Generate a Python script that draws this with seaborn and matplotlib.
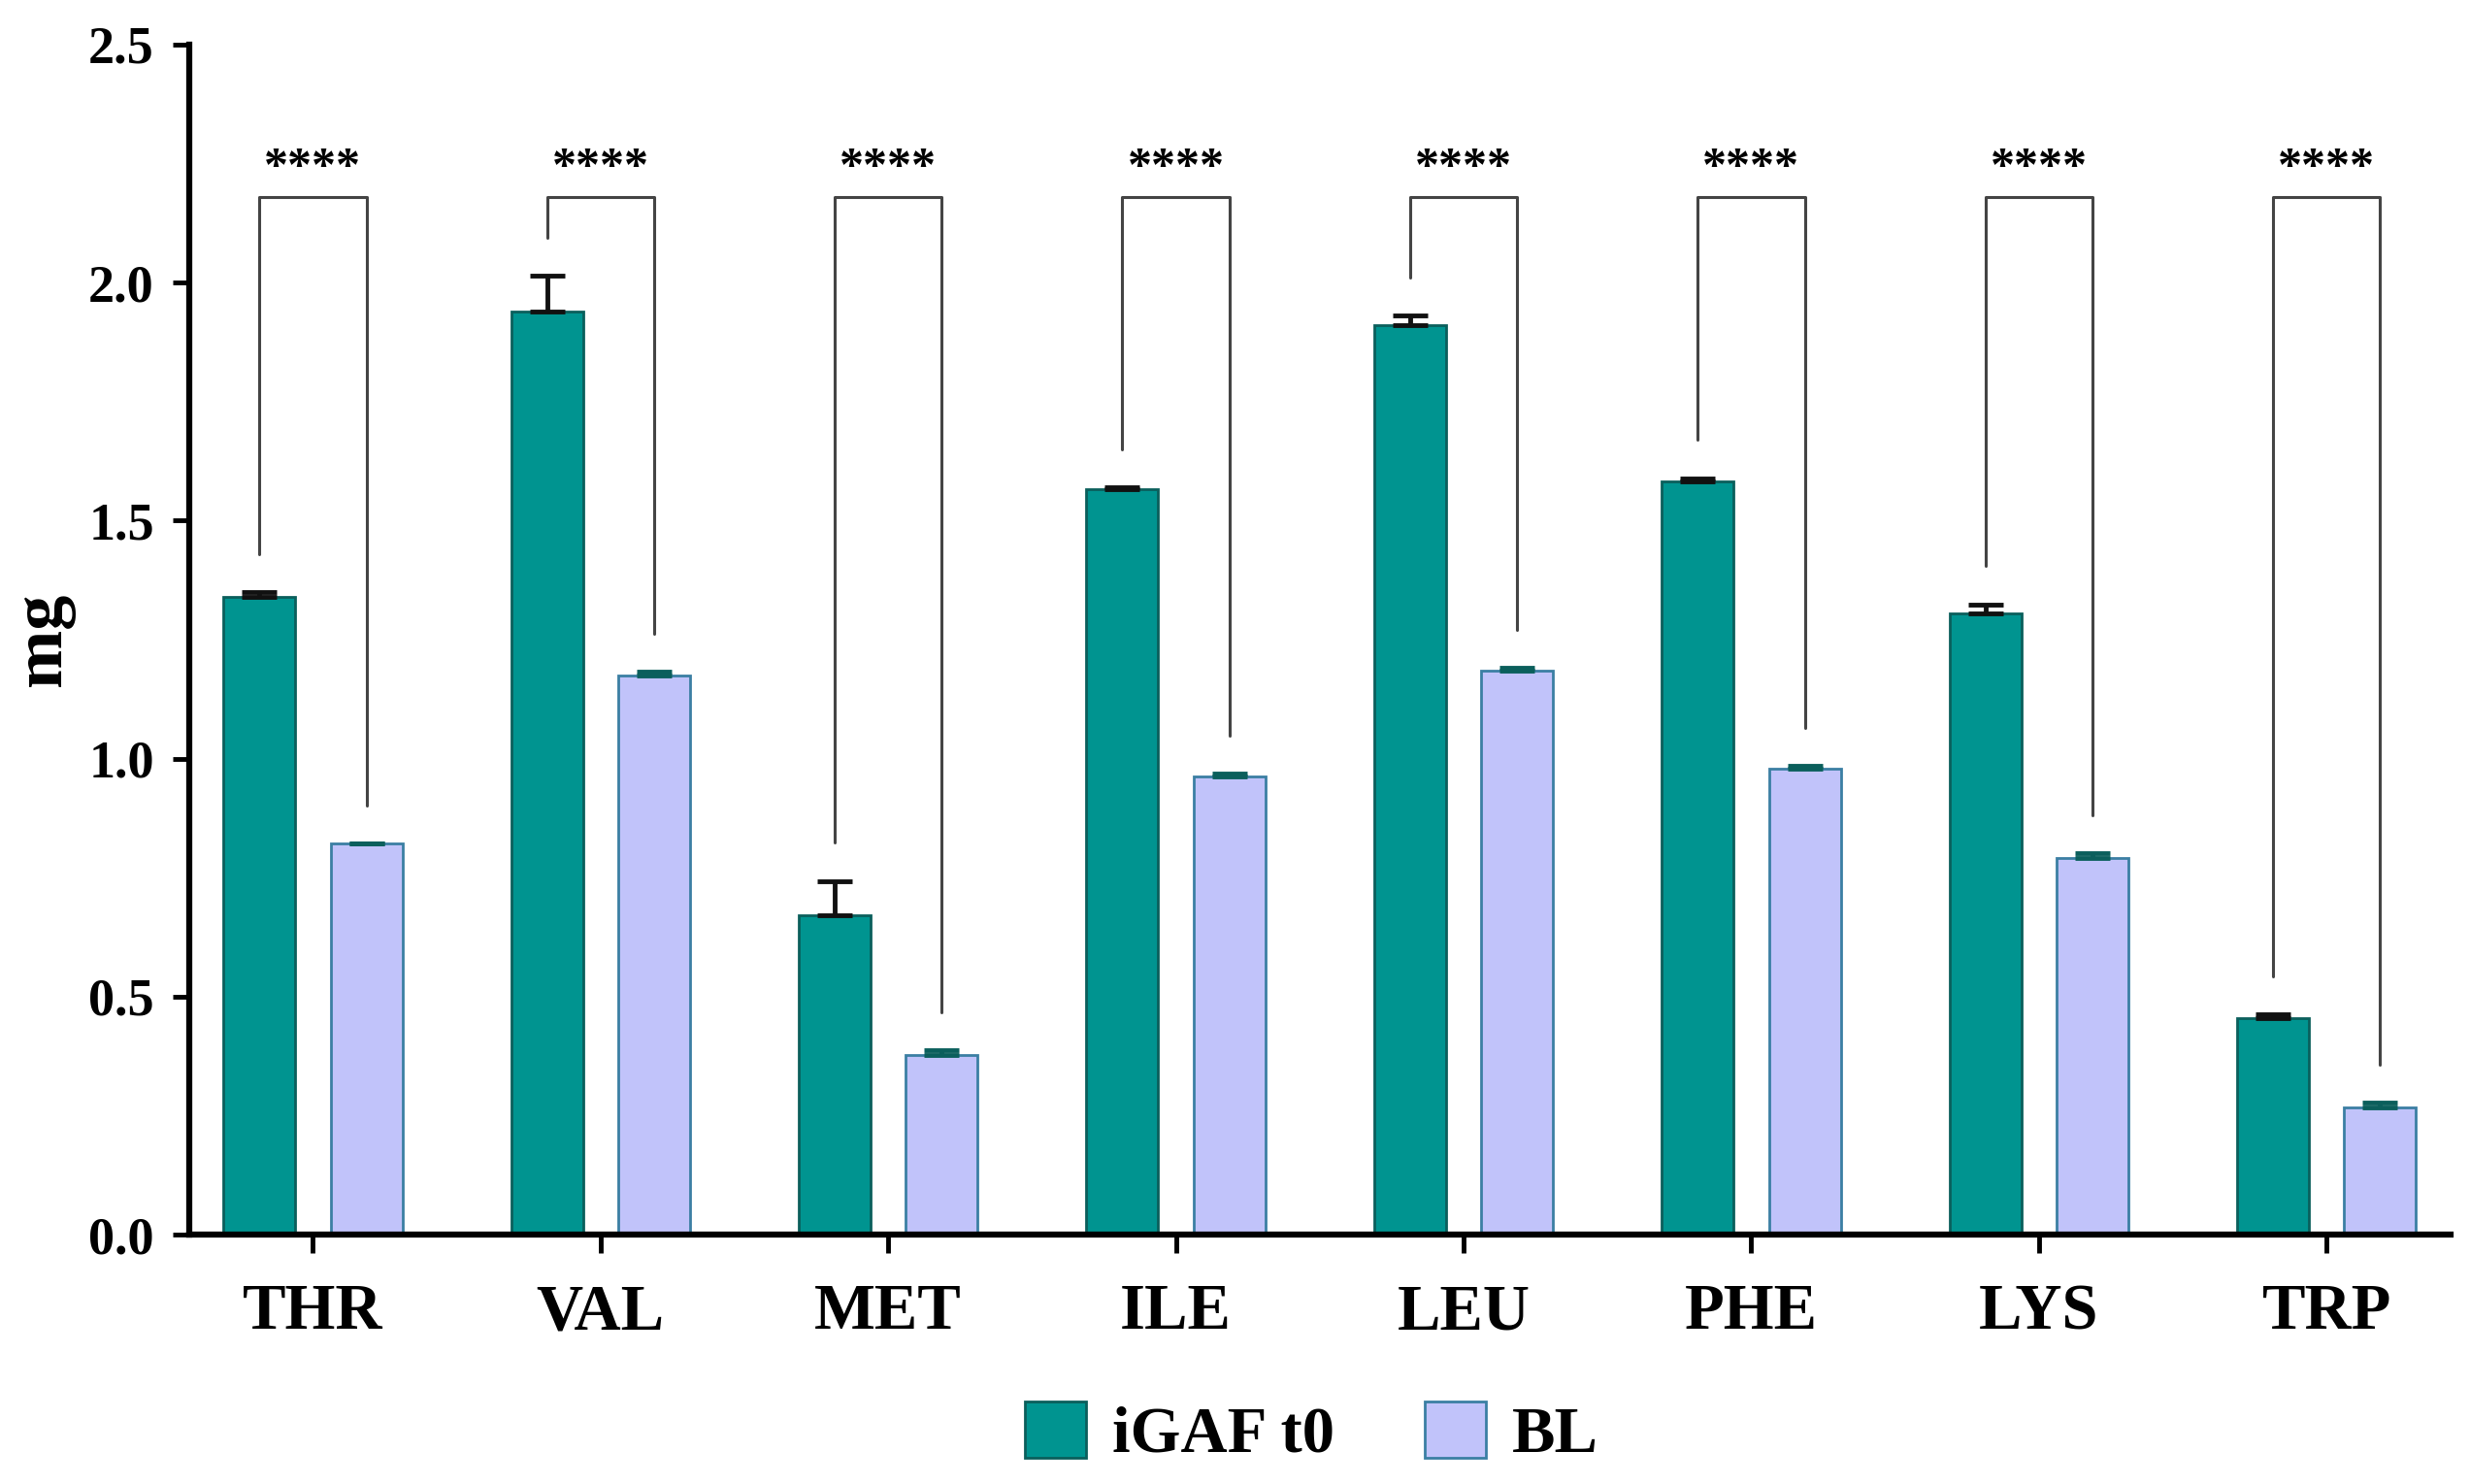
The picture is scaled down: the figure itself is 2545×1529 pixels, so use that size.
import numpy as np
import pandas as pd
import seaborn as sns
import matplotlib.pyplot as plt
from matplotlib.patches import Patch

# amino acids and the two groups
amino = ['THR', 'VAL', 'MET', 'ILE', 'LEU', 'PHE', 'LYS', 'TRP']
groups = ['iGAF t0', 'BL']

# mean values (mg)
igaf_mean = [1.34, 1.94, 0.67, 1.565, 1.91, 1.582, 1.306, 0.455]
bl_mean = [0.822, 1.174, 0.378, 0.962, 1.184, 0.978, 0.792, 0.268]

# upper error (SEM)
igaf_err = [0.010, 0.075, 0.073, 0.005, 0.020, 0.007, 0.018, 0.008]
bl_err = [0.000, 0.008, 0.010, 0.006, 0.006, 0.007, 0.010, 0.010]

stars = ['****'] * 8

teal = '#009490'
lavender = '#C1C3FA'

df = pd.DataFrame({
    'amino': amino * 2,
    'group': [groups[0]] * 8 + [groups[1]] * 8,
    'mg': igaf_mean + bl_mean,
})

sns.set_style('ticks')
plt.rcParams['font.family'] = ['Liberation Serif', 'DejaVu Serif']
plt.rcParams['font.weight'] = 'bold'
plt.rcParams['text.color'] = 'black'
plt.rcParams['xtick.color'] = 'black'
plt.rcParams['ytick.color'] = 'black'
plt.rcParams['axes.labelcolor'] = 'black'

fig = plt.figure(figsize=(25.45, 15.29), dpi=100)
ax = fig.add_axes([0.0766, 0.168, 0.9154, 0.802])

sns.barplot(data=df, x='amino', y='mg', hue='group', order=amino, hue_order=groups,
            palette=[teal, lavender], saturation=1, width=0.745, gap=0.33,
            errorbar=None, legend=False, ax=ax)

# bar edges
for patch in ax.containers[0]:
    patch.set_edgecolor('#0B5F5C')
    patch.set_linewidth(2)
for patch in ax.containers[1]:
    patch.set_edgecolor('#3B7FA3')
    patch.set_linewidth(2)

x_igaf = [p.get_x() + p.get_width() / 2 for p in ax.containers[0]]
x_bl = [p.get_x() + p.get_width() / 2 for p in ax.containers[1]]

# upward-only error bars
ax.errorbar(x_igaf, igaf_mean, yerr=[np.zeros(8), igaf_err], fmt='none',
            ecolor='#111111', elinewidth=3.5, capsize=13, capthick=3.5, zorder=3)
ax.errorbar(x_bl, bl_mean, yerr=[np.zeros(8), bl_err], fmt='none',
            ecolor='#0B5F5C', elinewidth=3.5, capsize=13, capthick=3.5, zorder=3)

# significance brackets
top = 2.18
for i in range(8):
    y1 = igaf_mean[i] + igaf_err[i] + 0.08
    y2 = bl_mean[i] + bl_err[i] + 0.08
    ax.plot([x_igaf[i], x_igaf[i], x_bl[i], x_bl[i]], [y1, top, top, y2],
            color='#444444', lw=2.2, zorder=2)
    ax.text((x_igaf[i] + x_bl[i]) / 2, top + 0.012, stars[i], ha='center',
            va='bottom', fontsize=36, fontweight='bold')

ax.set_xlim(-0.43, 7.43)
ax.set_ylim(0, 2.5)
ax.set_yticks([0.0, 0.5, 1.0, 1.5, 2.0, 2.5])
ax.set_yticklabels(['0.0', '0.5', '1.0', '1.5', '2.0', '2.5'])
ax.set_xlabel('')
ax.set_ylabel('mg', fontsize=52, fontweight='bold', labelpad=10)

ax.tick_params(axis='y', labelsize=39, length=12, width=3.5, pad=14)
ax.tick_params(axis='x', labelsize=48, length=14, width=3.5, pad=22)
for lab in ax.get_xticklabels() + ax.get_yticklabels():
    lab.set_fontweight('bold')

sns.despine(ax=ax)
for side in ['left', 'bottom']:
    ax.spines[side].set_linewidth(4.5)
    ax.spines[side].set_color('black')

handles = [Patch(facecolor=teal, edgecolor='#0B5F5C', linewidth=2),
           Patch(facecolor=lavender, edgecolor='#3B7FA3', linewidth=2)]
fig.legend(handles, groups, loc='center', bbox_to_anchor=(0.531, 0.034), ncol=2,
           frameon=False, prop={'size': 48, 'weight': 'bold'},
           handlelength=0.95, handleheight=0.95, handletextpad=0.4,
           columnspacing=1.4)

fig.savefig('out.png', dpi=100)
